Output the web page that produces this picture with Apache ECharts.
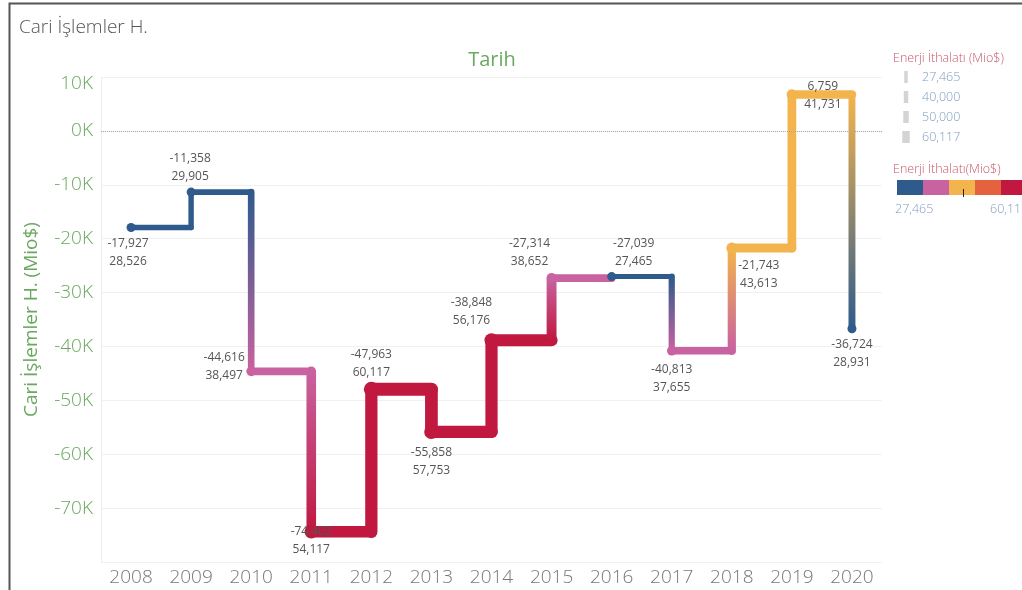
<!DOCTYPE html>
<html>
<head>
<meta charset="utf-8">
<script src="https://cdn.jsdelivr.net/npm/echarts@6/dist/echarts.min.js"></script>
<style>
html,body{margin:0;padding:0;background:#fff;}
#chart{width:1022px;height:590px;}
</style>
</head>
<body>
<div id="chart"></div>
<script>
// ---- data ----
const years = ['2008','2009','2010','2011','2012','2013','2014','2015','2016','2017','2018','2019','2020'];
const cariIslemler = [-17927,-11358,-44616,-74402,-47963,-55858,-38848,-27314,-27039,-40813,-21743,6759,-36724];
const enerjiIthalati = [28526,29905,38497,54117,60117,57753,56176,38652,27465,37655,43613,41731,28931];
const yTickValues = [10000,0,-10000,-20000,-30000,-40000,-50000,-60000,-70000];
const sizeLegendValues = [27465,40000,50000,60117];
const colorLegendRange = [27465,60117];

// ---- styles ----
const palette = ['#2f5b8c','#c862a0','#f3b44d','#e4623e','#c0183f'];
const green = '#6aa85f';
const font = "'Open Sans', 'Noto Sans', sans-serif";
const fw = 300;
const labelOffsets = [[-3,25],[-1,-25],[-27,-5],[0,9],[0,-26],[0,30],[-20,-29],[-22,-26],[22,-24],[0,28],[27,27],[31,1],[0,25]];

const eMin = colorLegendRange[0], eMax = colorLegendRange[1];
function colorOf(e){
  let k = Math.floor((e - eMin) / ((eMax - eMin) / 5));
  k = Math.max(0, Math.min(4, k));
  return palette[k];
}
function widthOf(e){
  return 5 + (e - eMin) / (eMax - eMin) * 8;
}
function fmt(v){ return v.toLocaleString('en-US'); }

const n = years.length;
function renderItem(params, api){
  const i = params.dataIndex;
  const p = api.coord([i, cariIslemler[i]]);
  const w0 = widthOf(enerjiIthalati[i]);
  const c0 = colorOf(enerjiIthalati[i]);
  const children = [];
  if (i < n - 1){
    const corner = api.coord([i + 1, cariIslemler[i]]);
    const p1 = api.coord([i + 1, cariIslemler[i + 1]]);
    const w1 = widthOf(enerjiIthalati[i + 1]);
    const c1 = colorOf(enerjiIthalati[i + 1]);
    children.push({type:'line', shape:{x1:p[0],y1:p[1],x2:corner[0],y2:corner[1]},
      style:{stroke:c0,lineWidth:w0,lineCap:'round'}, z2:1});
    children.push({type:'line', shape:{x1:corner[0],y1:corner[1],x2:p1[0],y2:p1[1]},
      style:{stroke:new echarts.graphic.LinearGradient(corner[0],corner[1],p1[0],p1[1],
        [{offset:0,color:c0},{offset:1,color:c1}], true),
        lineWidth:(w0 + w1) / 2, lineCap:'round'}, z2:1});
  }
  children.push({type:'circle', shape:{cx:p[0],cy:p[1],r:Math.max(w0/2 + 1, 4.5)},
    style:{fill:c0}, z2:10});
  const off = labelOffsets[i];
  children.push({type:'text', x:p[0] + off[0], y:p[1] + off[1], z2:100,
    style:{text:fmt(cariIslemler[i]) + '\n' + fmt(enerjiIthalati[i]),
      fill:'#555', font:'12px ' + font, lineHeight:18, align:'center', verticalAlign:'middle'}});
  return {type:'group', children};
}

// legend graphics
const legendGraphics = [];
const lf = fw + ' 12.5px ' + font;
legendGraphics.push({type:'text', left:893, top:52, style:{text:'Enerji İthalatı (Mio$)', fill:'#c8576a', font:lf}});
const sizeW = [3.5,4.5,5.5,7.5];
sizeLegendValues.forEach((v, k) => {
  const cy = 77 + k * 20;
  legendGraphics.push({type:'rect', shape:{x:906 - sizeW[k]/2, y:cy - 6, width:sizeW[k], height:12}, style:{fill:'#d4d4d4'}});
  legendGraphics.push({type:'text', x:922, y:cy, style:{text:fmt(v), fill:'#7f9cc0', font:lf, textVerticalAlign:'middle'}});
});
legendGraphics.push({type:'text', left:893, top:163, style:{text:'Enerji İthalatı(Mio$)', fill:'#c8576a', font:lf}});
palette.forEach((c, k) => {
  legendGraphics.push({type:'rect', shape:{x:897 + k*26, y:180, width:26, height:15}, style:{fill:c}});
});
legendGraphics.push({type:'rect', shape:{x:963, y:189, width:1, height:8}, style:{fill:'#222'}});
legendGraphics.push({type:'text', x:895, y:209, style:{text:fmt(colorLegendRange[0]), fill:'#7f9cc0', font:lf, textVerticalAlign:'middle'}});
legendGraphics.push({type:'text', x:990, y:209, style:{text:fmt(colorLegendRange[1]), fill:'#7f9cc0', font:lf, textVerticalAlign:'middle'}});
// frame
legendGraphics.push({type:'polyline', shape:{points:[[9.5,590],[9.5,3.5],[1022,3.5]]}, style:{stroke:'#555',lineWidth:2,fill:null}});
// "Tarih"
legendGraphics.push({type:'text', x:492, y:60, style:{text:'Tarih', fill:green, font:'20px ' + font, textAlign:'center', textVerticalAlign:'middle'}});

const chart = echarts.init(document.getElementById('chart'));
chart.setOption({
  animation:false,
  backgroundColor:'#fff',
  title:{text:'Cari İşlemler H.', left:14, top:13, textStyle:{color:'#555', fontSize:19, fontWeight:fw, fontFamily:font}},
  grid:{left:101, right:140, top:77, bottom:28, show:false},
  xAxis:{type:'category', data:years, boundaryGap:true,
    axisLine:{show:true, lineStyle:{color:'#eee'}}, axisTick:{show:false},
    axisLabel:{color:'#777', fontSize:19, margin:6, fontFamily:font, fontWeight:fw},
    splitLine:{show:false}},
  yAxis:{type:'value', min:-80000, max:10000, interval:10000,
    name:'Cari İşlemler H. (Mio$)', nameLocation:'middle', nameGap:60,
    nameTextStyle:{color:green, fontSize:19, fontFamily:font},
    axisLine:{show:true, lineStyle:{color:'#eee'}}, axisTick:{show:false},
    axisLabel:{color:green, fontSize:19, margin:8, fontFamily:font, fontWeight:fw,
      formatter:v => yTickValues.indexOf(v) < 0 ? '' : (v === yTickValues[0] ? '{top|' + (v/1000) + 'K}' : (v/1000) + 'K'),
      rich:{top:{color:green, fontSize:19, fontFamily:font, fontWeight:fw, padding:[14,0,0,0]}}},
    splitLine:{show:true, lineStyle:{color:'#f0f0f0'}}},
  graphic:legendGraphics,
  series:[
    {type:'custom', renderItem:renderItem, data:cariIslemler.map((v,i)=>[i,v]), z:2, clip:false,
     markLine:{silent:true, symbol:'none', label:{show:false}, lineStyle:{type:'dotted', color:'#aaa', width:1}, data:[{yAxis:0}]}}
  ]
});
</script>
</body>
</html>
